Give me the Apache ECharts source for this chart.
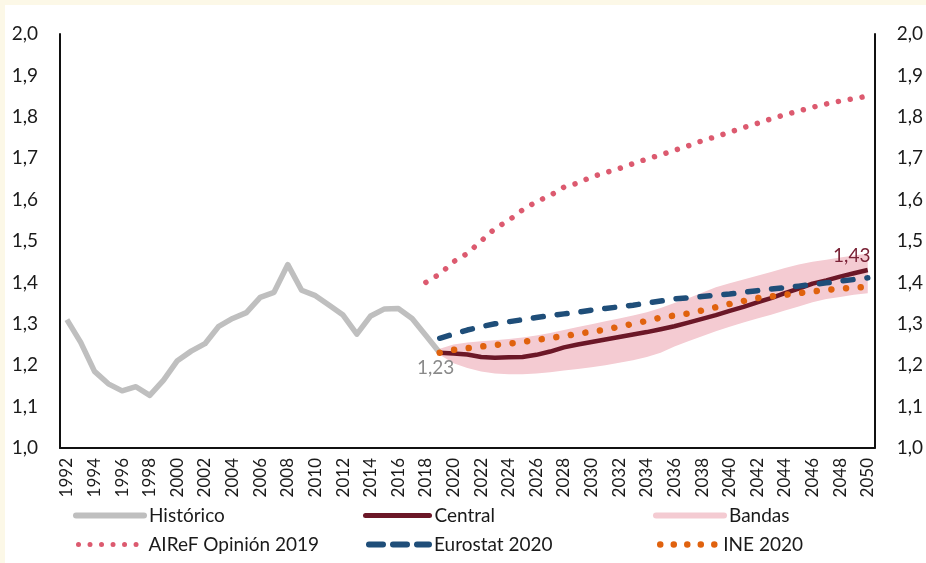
<!DOCTYPE html>
<html>
<head>
<meta charset="utf-8">
<script src="https://cdn.jsdelivr.net/npm/echarts@6/dist/echarts.min.js"></script>
<style>
  html, body { margin:0; padding:0; background:#fcf8e7; width:926px; height:563px; overflow:hidden; }
  #chart { position:absolute; left:5px; top:5px; width:921px; height:558px; background:#ffffff; }
</style>
</head>
<body>
<div id="chart"></div>
<script>
// ---- Data ----
const years = ['1992','1993','1994','1995','1996','1997','1998','1999','2000','2001','2002','2003','2004','2005','2006','2007','2008','2009','2010','2011','2012','2013','2014','2015','2016','2017','2018','2019','2020','2021','2022','2023','2024','2025','2026','2027','2028','2029','2030','2031','2032','2033','2034','2035','2036','2037','2038','2039','2040','2041','2042','2043','2044','2045','2046','2047','2048','2049','2050'];

// 1992-2019
const historico = [1.31,1.255,1.185,1.155,1.138,1.148,1.127,1.164,1.211,1.234,1.252,1.294,1.313,1.327,1.364,1.376,1.443,1.381,1.368,1.345,1.321,1.275,1.319,1.336,1.337,1.313,1.272,1.23];

// 2019-2050
const central = [1.23,1.228,1.226,1.22,1.218,1.219,1.22,1.225,1.233,1.243,1.25,1.256,1.262,1.268,1.274,1.28,1.287,1.294,1.303,1.312,1.321,1.331,1.341,1.352,1.362,1.374,1.385,1.397,1.405,1.414,1.422,1.43];
const bandaInferior = [1.225,1.205,1.193,1.185,1.18,1.178,1.178,1.18,1.183,1.187,1.191,1.195,1.2,1.206,1.212,1.22,1.23,1.245,1.258,1.27,1.282,1.293,1.303,1.313,1.322,1.332,1.342,1.352,1.36,1.365,1.37,1.374];
const bandaSuperior = [1.24,1.25,1.255,1.258,1.26,1.263,1.267,1.272,1.278,1.285,1.292,1.299,1.306,1.313,1.32,1.328,1.338,1.35,1.362,1.375,1.388,1.398,1.407,1.416,1.425,1.435,1.443,1.45,1.455,1.46,1.465,1.47];
const eurostat = [1.265,1.275,1.285,1.293,1.3,1.305,1.31,1.315,1.32,1.324,1.328,1.333,1.337,1.341,1.345,1.35,1.355,1.36,1.363,1.366,1.369,1.372,1.376,1.38,1.384,1.387,1.391,1.395,1.399,1.403,1.407,1.411];
const ine = [1.23,1.237,1.241,1.245,1.249,1.252,1.256,1.261,1.266,1.27,1.276,1.281,1.286,1.293,1.3,1.307,1.315,1.32,1.325,1.332,1.34,1.348,1.355,1.362,1.366,1.37,1.374,1.378,1.382,1.385,1.387,1.39];
// 2018-2050
const airef = [1.40,1.42,1.45,1.47,1.50,1.53,1.55,1.575,1.595,1.61,1.63,1.64,1.655,1.665,1.675,1.687,1.698,1.708,1.719,1.73,1.742,1.752,1.763,1.774,1.784,1.795,1.805,1.814,1.823,1.831,1.838,1.844,1.85];

const yTicks = ['1,0','1,1','1,2','1,3','1,4','1,5','1,6','1,7','1,8','1,9','2,0'];

// ---- Helpers ----
function pad(values, startYear) {
  const idx = years.indexOf(startYear);
  const out = years.map(() => null);
  values.forEach((v, i) => { out[idx + i] = v; });
  return out;
}
const fmt = v => v.toFixed(2).replace('.', ',');

const FONT = 'Lato, "Open Sans", sans-serif';

const lowData = pad(bandaInferior, '2019');
const diffData = pad(bandaSuperior.map((u, i) => +(u - bandaInferior[i]).toFixed(4)), '2019');

const C_HIST = '#bfbfbf', C_CENT = '#6b1727', C_BAND = '#f4cbd2', C_AIREF = '#dc5a6f', C_EURO = '#1f4e79', C_INE = '#e0620e';

function legendAt(name, left, top, w, ls) {
  return { data: [name], left: left, top: top, itemWidth: w, itemHeight: 14, itemGap: 0,
    itemStyle: { opacity: 0 }, lineStyle: ls,
    textStyle: { fontSize: 19, fontFamily: FONT, color: '#1a1a1a' }, selectedMode: false };
}

const chart = echarts.init(document.getElementById('chart'), null, { renderer: 'canvas' });
chart.setOption({
  animation: false,
  backgroundColor: '#ffffff',
  grid: { left: 55, right: 48, top: 29, bottom: 115, containLabel: false },
  legend: [
    legendAt('Histórico', 63, 496, 68, { width: 6, type: 'solid', cap: 'round' }),
    legendAt('Central', 353, 496, 64, { width: 5, type: 'solid', cap: 'round' }),
    legendAt('Bandas', 643, 496, 68, { width: 6, type: 'solid', cap: 'round' }),
    legendAt('AIReF Opinión 2019', 63, 525, 68, { width: 5, type: [0.01, 11.5], cap: 'round', dashOffset: -3 }),
    legendAt('Eurostat 2020', 353, 525, 63, { width: 6, type: [14, 10], cap: 'round', dashOffset: -3 }),
    legendAt('INE 2020', 643, 525, 62, { width: 6.5, type: [0.01, 13.5], cap: 'round', dashOffset: -4 })
  ],
  xAxis: {
    type: 'category', data: years, boundaryGap: true,
    axisLine: { show: true, lineStyle: { color: '#111', width: 2 } },
    axisTick: { show: false },
    axisLabel: { interval: 1, rotate: 90, fontSize: 17, fontFamily: FONT, color: '#1a1a1a', margin: 10 }
  },
  yAxis: [
    { type: 'value', min: 1, max: 2, interval: 0.1, position: 'left',
      axisLine: { show: true, lineStyle: { color: '#111', width: 2 } }, axisTick: { show: false }, splitLine: { show: false },
      axisLabel: { fontSize: 19, fontFamily: FONT, color: '#1a1a1a', margin: 22, formatter: (v) => yTicks[Math.round((v - 1) * 10)] } },
    { type: 'value', min: 1, max: 2, interval: 0.1, position: 'right',
      axisLine: { show: true, lineStyle: { color: '#111', width: 2 } }, axisTick: { show: false }, splitLine: { show: false },
      axisLabel: { fontSize: 19, fontFamily: FONT, color: '#1a1a1a', margin: 22, formatter: (v) => yTicks[Math.round((v - 1) * 10)] } }
  ],
  series: [
    { name: 'bandLow', type: 'line', stack: 'band', data: lowData, symbol: 'none', lineStyle: { opacity: 0 }, areaStyle: { opacity: 0 }, silent: true, z: 1 },
    { name: 'bandDiff', type: 'line', stack: 'band', data: diffData, symbol: 'none', lineStyle: { opacity: 0 }, areaStyle: { color: C_BAND, opacity: 1 }, silent: true, z: 1 },
    { name: 'Bandas', type: 'line', data: [], symbol: 'none', itemStyle: { color: C_BAND }, lineStyle: { color: C_BAND, width: 6 } },
    { name: 'Histórico', type: 'line', data: pad(historico, '1992'), symbol: 'none', itemStyle: { color: C_HIST }, lineStyle: { color: C_HIST, width: 5.5, join: 'round' }, z: 2,
      markPoint: { symbol: 'circle', symbolSize: 0, silent: true,
        data: [{ coord: [years[historico.length - 1], historico[historico.length - 1]], value: historico[historico.length - 1] }],
        label: { show: true, position: 'bottom', distance: 6, offset: [-4, 0], formatter: p => fmt(p.value), color: '#8a8a8a', fontSize: 19, fontFamily: FONT } } },
    { name: 'Central', type: 'line', data: pad(central, '2019'), symbol: 'none', itemStyle: { color: C_CENT }, lineStyle: { color: C_CENT, width: 4.5 }, z: 3,
      markPoint: { symbol: 'circle', symbolSize: 0, silent: true,
        data: [{ coord: [years[years.length - 1], central[central.length - 1]], value: central[central.length - 1] }],
        label: { show: true, position: 'top', distance: 5, offset: [-16, 0], formatter: p => fmt(p.value), color: '#7a2236', fontSize: 19, fontFamily: FONT } } },
    { name: 'AIReF Opinión 2019', type: 'line', data: pad(airef, '2018'), symbol: 'none', itemStyle: { color: C_AIREF },
      lineStyle: { color: C_AIREF, width: 5.5, type: [0.01, 12], cap: 'round' }, z: 4 },
    { name: 'Eurostat 2020', type: 'line', data: pad(eurostat, '2019'), symbol: 'none', itemStyle: { color: C_EURO },
      lineStyle: { color: C_EURO, width: 5.5, type: [10, 14], cap: 'round' }, z: 4 },
    { name: 'INE 2020', type: 'line', data: pad(ine, '2019'), symbol: 'none', itemStyle: { color: C_INE },
      lineStyle: { color: C_INE, width: 6.5, type: [0.01, 14.7], cap: 'round' }, z: 5 }
  ]
});
</script>
</body>
</html>
